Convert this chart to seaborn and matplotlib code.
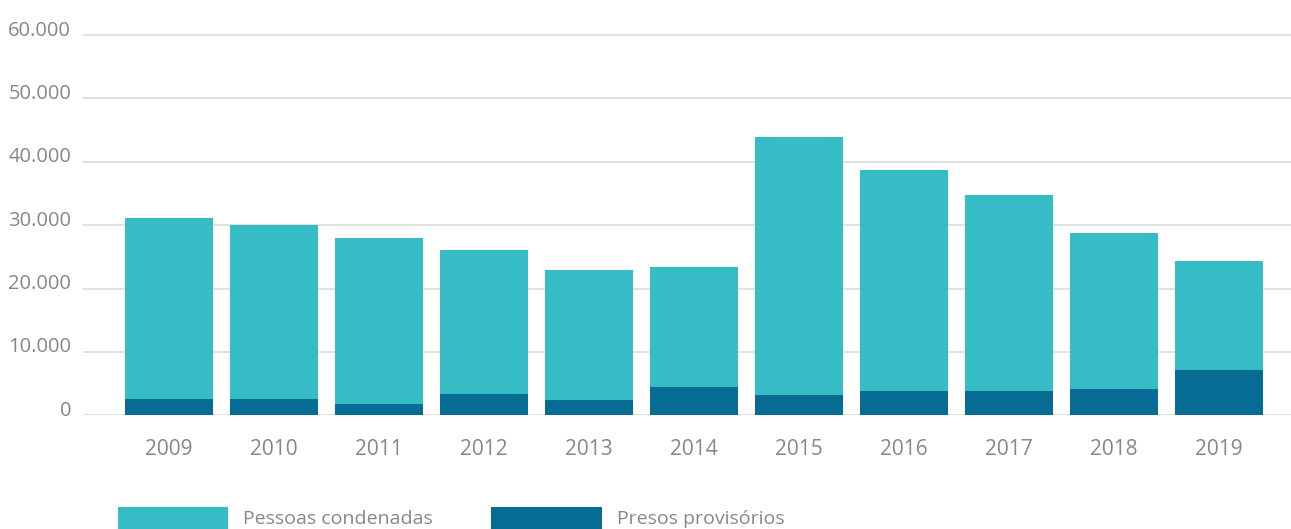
import matplotlib
matplotlib.use("Agg")
import matplotlib.pyplot as plt
from matplotlib.patches import Patch
from matplotlib.transforms import ScaledTranslation
import numpy as np
import pandas as pd
import seaborn as sns

# Data
anos = ["2009", "2010", "2011", "2012", "2013", "2014", "2015", "2016", "2017", "2018", "2019"]
pessoas_condenadas = [28500, 27400, 26200, 22750, 20500, 18950, 40700, 34850, 30900, 24600, 17200]
presos_provisorios = [2600, 2600, 1800, 3350, 2400, 4450, 3200, 3850, 3850, 4150, 7150]
yticks = [0, 10000, 20000, 30000, 40000, 50000, 60000]
ytick_labels = ["0", "10.000", "20.000", "30.000", "40.000", "50.000", "60.000"]
series_names = ["Pessoas condenadas", "Presos provisórios"]

COR_CONDENADAS = "#35BCC5"
COR_PROVISORIOS = "#066C94"
COR_TEXTO = "#878787"
COR_GRADE = "#DEDEDE"

sns.set_theme(style="white")
plt.rcParams["font.family"] = ["Open Sans", "DejaVu Sans"]

df = pd.DataFrame({
    "ano": anos,
    "condenadas": pessoas_condenadas,
    "provisorios": presos_provisorios,
})
df["total"] = df["condenadas"] + df["provisorios"]

fig = plt.figure(figsize=(12.91, 5.29), dpi=100)
ax = fig.add_axes([83 / 1291, (529 - 415.3) / 529, 1 - 83 / 1291, (415.3 - 28.7) / 529])

# stacked bars: full height first, then the bottom segment on top of it
sns.barplot(data=df, x="ano", y="total", order=anos, color=COR_CONDENADAS,
            width=0.838, saturation=1, ax=ax, linewidth=0, zorder=2)
sns.barplot(data=df, x="ano", y="provisorios", order=anos, color=COR_PROVISORIOS,
            width=0.838, saturation=1, ax=ax, linewidth=0, zorder=3)

ax.set_xlim(-0.819, 10.686)
ax.set_ylim(0, 61000)
ax.set_yticks(yticks)
ax.set_yticklabels(ytick_labels)
ax.set_xlabel("")
ax.set_ylabel("")
for s in ax.spines.values():
    s.set_visible(False)
ax.yaxis.grid(True, color=COR_GRADE, linewidth=1.3, zorder=0)
ax.xaxis.grid(False)
ax.set_axisbelow(True)
ax.tick_params(axis="both", length=0, colors=COR_TEXTO)
ax.tick_params(axis="y", pad=8.5, labelsize=14.5)
ax.tick_params(axis="x", pad=17, labelsize=15)

# lift the value labels slightly above their grid lines
shift = ScaledTranslation(0, 0.07, fig.dpi_scale_trans)
for lab in ax.get_yticklabels():
    lab.set_transform(lab.get_transform() + shift)

handles = [Patch(facecolor=COR_CONDENADAS, edgecolor="none"),
           Patch(facecolor=COR_PROVISORIOS, edgecolor="none")]
fig.legend(handles, series_names, loc="upper left",
           bbox_to_anchor=(118 / 1291, 1 - 507 / 529), ncol=2, frameon=False,
           fontsize=14, labelcolor=COR_TEXTO, handlelength=5.67, handleheight=1.35,
           handletextpad=0.77, columnspacing=3.0, borderpad=0, borderaxespad=0)

fig.savefig("out.png", dpi=100)
